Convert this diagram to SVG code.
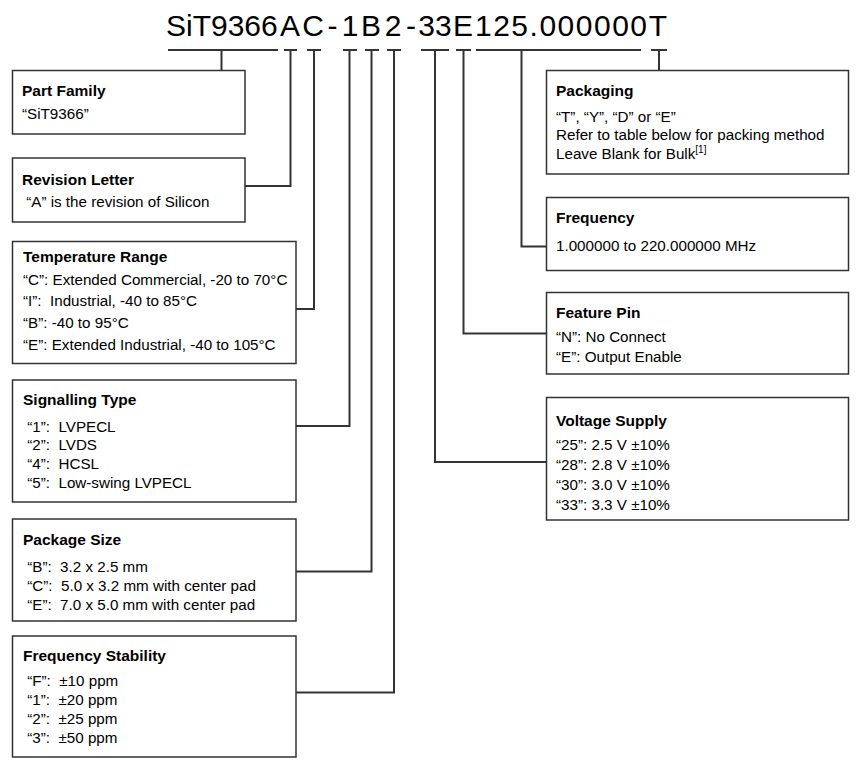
<svg xmlns="http://www.w3.org/2000/svg" width="858" height="774" viewBox="0 0 858 774">
<style>
.box{fill:#fff;stroke:#333;stroke-width:1.5}
.t{font-family:"Liberation Sans",Arial,sans-serif;font-size:15.5px;font-weight:bold;fill:#000}
.b{font-family:"Liberation Sans",Arial,sans-serif;font-size:15.2px;fill:#000}
.pn{font-family:"Liberation Sans",Arial,sans-serif;font-size:30px;fill:#000}
.c{fill:none;stroke:#333;stroke-width:2}
</style>
<rect width="858" height="774" fill="#fff"/>
<text class="pn" y="36"><tspan x="166">SiT9366</tspan><tspan x="290" text-anchor="middle">A</tspan><tspan x="313" text-anchor="middle">C</tspan><tspan x="332.5" text-anchor="middle">-</tspan><tspan x="350" text-anchor="middle">1</tspan><tspan x="371" text-anchor="middle">B</tspan><tspan x="393" text-anchor="middle">2</tspan><tspan x="411" text-anchor="middle">-</tspan><tspan x="435" text-anchor="middle">33</tspan><tspan x="463" text-anchor="middle">E</tspan><tspan x="475" letter-spacing="1.5">125.000000</tspan><tspan x="658" text-anchor="middle">T</tspan></text>
<g id="connectors">
<path class="c" d="M168,50H278M221.5,50V70.5"/>
<path class="c" d="M284,50H297M290.5,50V186H245"/>
<path class="c" d="M307,50H321M314,50V309H296"/>
<path class="c" d="M343,50H357M349.5,50V426H296"/>
<path class="c" d="M365,50H379M371.5,50V571.5H296"/>
<path class="c" d="M387,50H401M394,50V692.5H296"/>
<path class="c" d="M421,50H449M435,50V462H546"/>
<path class="c" d="M456,50H471M463.5,50V333.5H546"/>
<path class="c" d="M476,50H641M521.5,50V246.5H546"/>
<path class="c" d="M651,50H667M659,50V70.5"/>
</g>
<g id="part-family">
<rect class="box" x="12.5" y="70.5" width="232.5" height="63.5"/>
<text class="t" x="22" y="96">Part Family</text>
<text class="b" x="22" y="119">“SiT9366”</text>
</g>
<g id="revision-letter">
<rect class="box" x="12.5" y="158" width="232.5" height="64"/>
<text class="t" x="22" y="185">Revision Letter</text>
<text class="b" x="22" y="207" xml:space="preserve"> “A” is the revision of Silicon</text>
</g>
<g id="temperature-range">
<rect class="box" x="12.5" y="241.5" width="283.5" height="122"/>
<text class="t" x="23" y="262">Temperature Range</text>
<text class="b" x="23" y="285" xml:space="preserve">“C”: Extended Commercial, -20 to 70°C</text>
<text class="b" x="23" y="306" xml:space="preserve">“I”:  Industrial, -40 to 85°C</text>
<text class="b" x="23" y="328" xml:space="preserve">“B”: -40 to 95°C</text>
<text class="b" x="23" y="350" xml:space="preserve">“E”: Extended Industrial, -40 to 105°C</text>
</g>
<g id="signalling-type">
<rect class="box" x="12.5" y="380" width="283.5" height="122"/>
<text class="t" x="23" y="405">Signalling Type</text>
<text class="b" x="23" y="432" xml:space="preserve"> “1”:  LVPECL</text>
<text class="b" x="23" y="450" xml:space="preserve"> “2”:  LVDS</text>
<text class="b" x="23" y="469" xml:space="preserve"> “4”:  HCSL</text>
<text class="b" x="23" y="488" xml:space="preserve"> “5”:  Low-swing LVPECL</text>
</g>
<g id="package-size">
<rect class="box" x="12.5" y="519" width="283.5" height="102"/>
<text class="t" x="23" y="545">Package Size</text>
<text class="b" x="23" y="572" xml:space="preserve"> “B”:  3.2 x 2.5 mm</text>
<text class="b" x="23" y="591" xml:space="preserve"> “C”:  5.0 x 3.2 mm with center pad</text>
<text class="b" x="23" y="610" xml:space="preserve"> “E”:  7.0 x 5.0 mm with center pad</text>
</g>
<g id="frequency-stability">
<rect class="box" x="12.5" y="636" width="283.5" height="121"/>
<text class="t" x="23" y="661">Frequency Stability</text>
<text class="b" x="23" y="686" xml:space="preserve"> “F”:  ±10 ppm</text>
<text class="b" x="23" y="705" xml:space="preserve"> “1”:  ±20 ppm</text>
<text class="b" x="23" y="724" xml:space="preserve"> “2”:  ±25 ppm</text>
<text class="b" x="23" y="743" xml:space="preserve"> “3”:  ±50 ppm</text>
</g>
<g id="packaging">
<rect class="box" x="546.5" y="70.5" width="302" height="103.5"/>
<text class="t" x="556" y="96">Packaging</text>
<text class="b" x="556" y="122">“T”, “Y”, “D” or “E”</text>
<text class="b" x="556" y="140">Refer to table below for packing method</text>
<text class="b" x="556" y="159">Leave Blank for Bulk<tspan font-size="10" dy="-6">[1]</tspan></text>
</g>
<g id="frequency">
<rect class="box" x="546.5" y="197.5" width="302" height="73"/>
<text class="t" x="556" y="223">Frequency</text>
<text class="b" x="556" y="251">1.000000 to 220.000000 MHz</text>
</g>
<g id="feature-pin">
<rect class="box" x="546.5" y="292.5" width="302" height="81.5"/>
<text class="t" x="556" y="318">Feature Pin</text>
<text class="b" x="556" y="342">“N”: No Connect</text>
<text class="b" x="556" y="362">“E”: Output Enable</text>
</g>
<g id="voltage-supply">
<rect class="box" x="546.5" y="397.5" width="302" height="122.5"/>
<text class="t" x="556" y="426">Voltage Supply</text>
<text class="b" x="556" y="450">“25”: 2.5 V ±10%</text>
<text class="b" x="556" y="470">“28”: 2.8 V ±10%</text>
<text class="b" x="556" y="490">“30”: 3.0 V ±10%</text>
<text class="b" x="556" y="510">“33”: 3.3 V ±10%</text>
</g>
</svg>
